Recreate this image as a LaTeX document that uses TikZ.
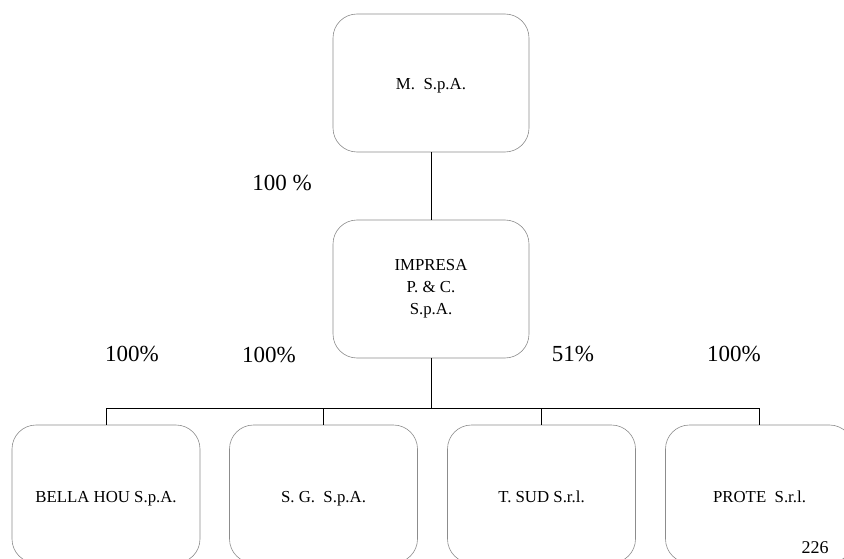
\documentclass[tikz,border=0pt]{standalone}
\usepackage{fontspec}
\setmainfont{Liberation Serif}
\begin{document}
\begin{tikzpicture}[x=1pt,y=-1pt,
  company/.style={draw=black!45, line width=0.6pt, rounded corners=24pt,
    minimum width=196pt, minimum height=138pt, align=center, inner sep=0pt,
    font=\fontsize{16.8}{22}\selectfont},
  subsidiary/.style={company, minimum width=188pt, text height=16pt, text depth=0pt},
  share/.style={font=\fontsize{23}{27}\selectfont, inner sep=0pt},
  link/.style={line width=0.9pt, black}]
\useasboundingbox (0,0) rectangle (844,559);

% holding and operating company
\node[company, text height=14pt, text depth=0pt] (mspa) at (431,83) {M.\ \ S.p.A.};
\node[company] (impresa) at (431,289) {IMPRESA\\P. \& C.\\S.p.A.};

% subsidiaries
\node[subsidiary] (bella) at (106,494) {BELLA HOU S.p.A.};
\node[subsidiary] (sg)    at (323.5,494) {S. G.\ \ S.p.A.};
\node[subsidiary] (tsud)  at (541.5,494) {T. SUD S.r.l.};
\node[subsidiary] (prote) at (759.5,494) {PROTE\ \ S.r.l.};

% ownership lines
\coordinate (bus) at (431,408);
\draw[link] (mspa.south) -- (impresa.north);
\draw[link] (impresa.south) -- (impresa.south |- bus);
\draw[link] (bella.north) |- (prote.north |- bus) -- (prote.north);
\draw[link] (sg.north) -- (sg.north |- bus);
\draw[link] (tsud.north) -- (tsud.north |- bus);

% shareholdings
\node[share] (p0) at (282,183) {100 \%};
\node[share] (p1) at (132,354) {100\%};
\node[share] (p2) at (269,355) {100\%};
\node[share] (p3) at (573,354) {51\%};
\node[share] (p4) at (734,354) {100\%};

% page number
\node[font=\fontsize{18}{21}\selectfont, inner sep=0pt] (page) at (815,548) {226};
\end{tikzpicture}
\end{document}
